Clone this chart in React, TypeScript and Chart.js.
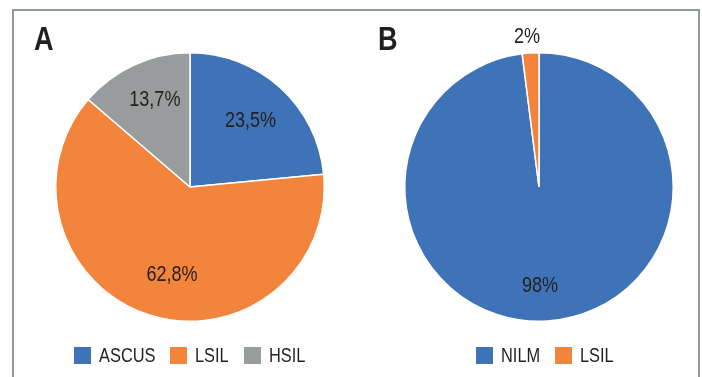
import React, { useEffect, useRef } from "react";
import { Chart, registerables } from "chart.js";

Chart.register(...registerables);

// Panel A: cytology results
const categoriesA = ["ASCUS", "LSIL", "HSIL"];
const valuesA = [23.5, 62.8, 13.7];

// Panel B: cytology results
const categoriesB = ["NILM", "LSIL"];
const valuesB = [98, 2];

const BLUE = "#3f73b8";
const ORANGE = "#f2843c";
const GRAY = "#999c9c";
const TEXT = "#231f20";
const FONT = '"Liberation Sans", Arial, sans-serif';
// narrow look for all text
const SQUEEZE = 0.82;

const colorsA = [BLUE, ORANGE, GRAY];
const colorsB = [BLUE, ORANGE];

const fmtA = (v: number) => v.toFixed(1).replace(".", ",") + "%";
const fmtB = (v: number) => Math.round(v) + "%";

// Draws each slice's value near the slice's middle angle.
const sliceLabels = {
  id: "sliceLabels",
  afterDatasetsDraw(chart: any, _args: any, opts: any) {
    const ctx = chart.ctx;
    const meta = chart.getDatasetMeta(0);
    const data = chart.data.datasets[0].data as number[];
    ctx.save();
    ctx.font = `${opts.size}px ${FONT}`;
    ctx.fillStyle = TEXT;
    ctx.textAlign = "center";
    ctx.textBaseline = "middle";
    meta.data.forEach((arc: any, i: number) => {
      const p = arc.getProps(["x", "y", "startAngle", "endAngle", "outerRadius"], true);
      const mid = (p.startAngle + p.endAngle) / 2 + ((opts.shift[i] || 0) * Math.PI) / 180;
      const r = p.outerRadius * opts.radial[i];
      ctx.save();
      ctx.translate(p.x + Math.cos(mid) * r, p.y + Math.sin(mid) * r);
      ctx.scale(SQUEEZE, 1);
      ctx.fillText(opts.format(data[i]), 0, 0);
      ctx.restore();
    });
    ctx.restore();
  },
};

function PieCanvas(props: {
  labels: string[];
  values: number[];
  colors: string[];
  padding: { left: number; right: number; top: number; bottom: number };
  radial: number[];
  shift: number[];
  format: (v: number) => string;
  left: number;
}) {
  const ref = useRef<HTMLCanvasElement | null>(null);
  useEffect(() => {
    if (!ref.current) return;
    const chart = new Chart(ref.current, {
      type: "pie",
      data: {
        labels: props.labels,
        datasets: [
          {
            data: props.values,
            backgroundColor: props.colors,
            borderColor: "#ffffff",
            borderWidth: 1.5,
          },
        ],
      },
      options: {
        responsive: false,
        animation: false,
        layout: { padding: props.padding },
        plugins: {
          legend: { display: false },
          tooltip: { enabled: false },
          sliceLabels: { size: 22, radial: props.radial, shift: props.shift, format: props.format },
        } as any,
      },
      plugins: [sliceLabels],
    });
    return () => chart.destroy();
  }, []);
  return (
    <canvas
      ref={ref}
      width={351}
      height={377}
      style={{ position: "absolute", left: props.left, top: 0, width: 351, height: 377 }}
    />
  );
}

function Legend(props: { labels: string[]; colors: string[]; xs: number[] }) {
  return (
    <>
      {props.labels.map((l, i) => (
        <div
          key={l}
          style={{
            position: "absolute",
            left: props.xs[i],
            top: 346,
            height: 19,
            display: "flex",
            alignItems: "center",
            whiteSpace: "nowrap",
          }}
        >
          <span style={{ width: 17, height: 17, background: props.colors[i], marginRight: 8 }} />
          <span
            style={{
              display: "inline-block",
              fontFamily: FONT,
              fontSize: 20,
              lineHeight: "19px",
              color: TEXT,
              transform: `scaleX(${SQUEEZE})`,
              transformOrigin: "left center",
            }}
          >
            {l}
          </span>
        </div>
      ))}
    </>
  );
}

const panelLetter = (text: string, left: number) => (
  <div
    style={{
      position: "absolute",
      left,
      top: 21,
      fontFamily: FONT,
      fontWeight: 700,
      fontSize: 33,
      lineHeight: "36px",
      color: TEXT,
      transform: `scaleX(${SQUEEZE})`,
      transformOrigin: "left center",
    }}
  >
    {text}
  </div>
);

export default function App() {
  return (
    <div
      style={{
        position: "absolute",
        left: 0,
        top: 0,
        width: 702,
        height: 377,
        overflow: "hidden",
        background: "#ffffff",
      }}
    >
      <div
        style={{
          position: "absolute",
          left: 12,
          top: 9,
          width: 684,
          height: 400,
          border: "2px solid #8e9aa0",
        }}
      />
      <PieCanvas
        labels={categoriesA}
        values={valuesA}
        colors={colorsA}
        padding={{ left: 55, right: 26, top: 52, bottom: 55 }}
        radial={[0.67, 0.665, 0.7]}
        shift={[0, -6, 2.7]}
        format={fmtA}
        left={0}
      />
      <PieCanvas
        labels={categoriesB}
        values={valuesB}
        colors={colorsB}
        padding={{ left: 53, right: 28, top: 52, bottom: 55 }}
        radial={[0.74, 1.12]}
        shift={[3, -1]}
        format={fmtB}
        left={351}
      />
      {panelLetter("A", 34)}
      {panelLetter("B", 378)}
      <Legend labels={categoriesA} colors={colorsA} xs={[74, 170, 244]} />
      <Legend labels={categoriesB} colors={colorsB} xs={[476, 555]} />
    </div>
  );
}
